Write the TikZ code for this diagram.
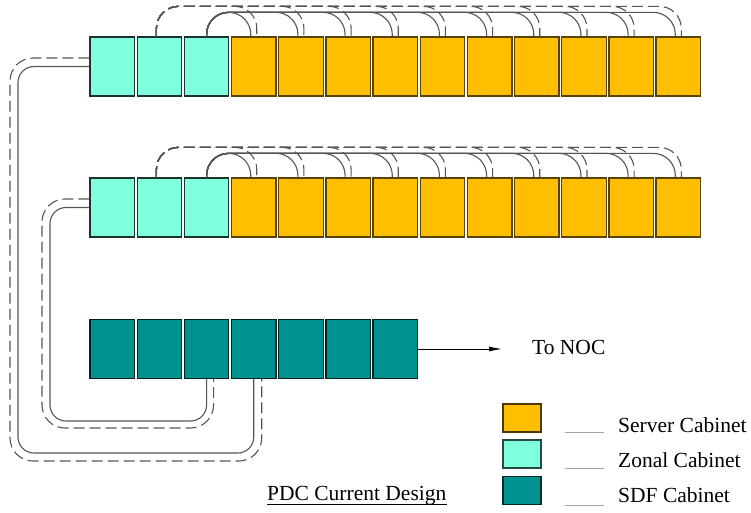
\documentclass[tikz,border=0pt]{standalone}
\usepackage{fontspec}
\setmainfont{Liberation Serif}
\usetikzlibrary{arrows.meta}

\definecolor{server}{RGB}{255,190,0}
\definecolor{zonal}{RGB}{128,255,220}
\definecolor{sdf}{RGB}{0,146,142}
\definecolor{cable}{RGB}{85,85,85}

\tikzset{
  cab/.style={draw, line width=1.3pt, minimum width=44.5pt, minimum height=59pt, inner sep=0pt},
  srv/.style={cab, fill=server, draw=server!35!black},
  zon/.style={cab, fill=zonal, draw=zonal!20!black},
  sdfbox/.style={cab, fill=sdf, draw=sdf!25!black},
  wire/.style={draw=cable, line width=1.1pt},
  dwire/.style={wire, dash pattern=on 11pt off 5pt},
  lbl/.style={inner sep=0pt, font=\fontsize{21.5}{24}\selectfont},
}

\begin{document}
\begin{tikzpicture}[x=1pt, y=-1pt]
\useasboundingbox (0,0) rectangle (751,512);

% Cabinet rows: 3 zonal + 10 server
\foreach \r/\y in {1/66.5, 2/207.5}{
  \foreach \k in {1,...,3}
    \node[zon] (z\r-\k) at ({112.25+(\k-1)*47.17},\y) {};
  \foreach \k in {4,...,13}
    \node[srv] (s\r-\k) at ({112.25+(\k-1)*47.17},\y) {};
}

% SDF row
\foreach \k in {1,...,7}
  \node[sdfbox] (d\k) at ({112.25+(\k-1)*47.17},349) {};

% Overhead feeds from the zonal cabinets
\foreach \r in {1,2}{
  \foreach \k in {4,...,13}{
    \draw[wire, rounded corners=22pt] (z\r-3.north) -- ++(0,-24) -| ([xshift=-3pt]s\r-\k.north);
    \draw[dwire, rounded corners=22pt] ([xshift=-3pt]z\r-2.north) -- ++(0,-30) -| ([xshift=3pt]s\r-\k.north);
  }
}

% Runs down to the SDF row
\draw[wire, rounded corners=16pt] (z1-1.west) -| (18,453) -| (d4.south);
\draw[dwire, rounded corners=23pt] ([yshift=8.5pt]z1-1.west) -| (10,461) -| ([xshift=8pt]d4.south);
\draw[wire, rounded corners=16pt] (z2-1.west) -| (50,421) -| (d3.south);
\draw[dwire, rounded corners=23pt] ([yshift=8.5pt]z2-1.west) -| (42,428) -| ([xshift=7pt]d3.south);

% Uplink
\node[lbl, anchor=base west] (noc) at (532,354) {To NOC};
\draw[-{Latex[length=13pt,width=5pt]}, line width=0.9pt, shorten >=30pt] (d7.east) -- (d7.east -| noc.west);

% Legend
\foreach \i/\c/\y/\b/\txt in {1/server/418/432/Server Cabinet, 2/zonal/454/467/Zonal Cabinet, 3/sdf/490.5/502/SDF Cabinet}{
  \node[cab, minimum width=38pt, minimum height=28pt, fill=\c, draw=\c!30!black] (key\i) at (522,\y) {};
  \node[lbl, anchor=base west] (keytxt\i) at (618,\b) {\txt};
  \draw[draw=gray!70, line width=0.8pt] ([xshift=23pt]key\i.south east) -- ++(39,0);
}

\node[lbl, anchor=base west] (title) at (267,500) {PDC Current Design};
\draw[line width=0.8pt] ([yshift=-4pt]title.base west) -- ([yshift=-4pt]title.base east);

\end{tikzpicture}
\end{document}
